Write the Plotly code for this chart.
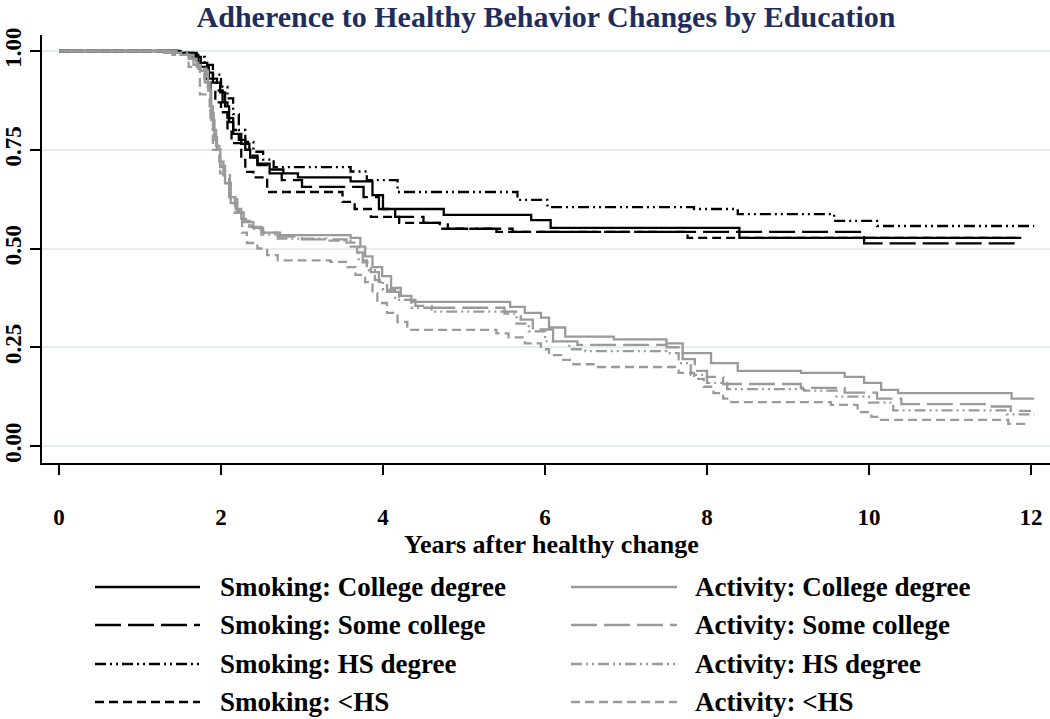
import plotly.graph_objects as go

# Kaplan-Meier style step curves (years, proportion still adhering)
smk_college_t = [0, 1.45, 1.62, 1.72, 1.83, 1.9, 1.99, 2.05, 2.1, 2.15, 2.22, 2.3, 2.36, 2.45, 2.6, 2.77, 2.95, 3.6, 3.87, 4.0, 4.75, 5.83, 6.07, 8.4, 11.88]
smk_college_s = [1.0, 0.995, 0.99, 0.97, 0.945, 0.92, 0.895, 0.86, 0.82, 0.79, 0.775, 0.75, 0.73, 0.715, 0.70, 0.69, 0.68, 0.67, 0.635, 0.60, 0.585, 0.572, 0.552, 0.527, 0.527]

smk_some_t = [0, 1.5, 1.65, 1.75, 1.85, 1.95, 2.02, 2.08, 2.15, 2.25, 2.35, 2.45, 2.6, 2.75, 3.0, 3.76, 3.95, 4.15, 4.5, 4.8, 5.6, 9.94, 11.85]
smk_some_s = [1.0, 0.995, 0.985, 0.96, 0.93, 0.90, 0.87, 0.83, 0.80, 0.765, 0.735, 0.711, 0.69, 0.673, 0.656, 0.63, 0.60, 0.58, 0.565, 0.55, 0.542, 0.513, 0.513]

smk_hs_t = [0, 1.5, 1.7, 1.8, 1.9, 2.0, 2.08, 2.15, 2.22, 2.3, 2.4, 2.52, 2.65, 3.6, 3.8, 4.18, 5.66, 6.03, 7.84, 8.38, 9.57, 10.1, 12.04]
smk_hs_s = [1.0, 0.995, 0.985, 0.965, 0.94, 0.91, 0.88, 0.84, 0.80, 0.77, 0.745, 0.725, 0.706, 0.695, 0.673, 0.643, 0.623, 0.605, 0.60, 0.587, 0.57, 0.557, 0.557]

smk_lths_t = [0, 1.4, 1.6, 1.7, 1.8, 1.87, 1.93, 2.0, 2.08, 2.13, 2.25, 2.3, 2.4, 2.57, 3.5, 3.65, 3.85, 4.2, 4.7, 5.4, 7.76, 11.85]
smk_lths_s = [1.0, 0.995, 0.985, 0.96, 0.93, 0.90, 0.87, 0.845, 0.80, 0.767, 0.724, 0.694, 0.68, 0.643, 0.618, 0.60, 0.58, 0.565, 0.55, 0.542, 0.527, 0.527]

act_college_t = [0, 1.3, 1.5, 1.66, 1.75, 1.84, 1.88, 1.92, 1.95, 1.99, 2.05, 2.12, 2.2, 2.28, 2.4, 2.52, 2.73, 3.6, 3.72, 3.78, 3.87, 3.99, 4.1, 4.22, 4.35, 5.57, 5.75, 5.95, 6.05, 6.25, 6.85, 7.5, 7.7, 8.05, 8.38, 9.16, 9.7, 9.94, 10.15, 10.36, 11.76, 12.04]
act_college_s = [1.0, 0.995, 0.99, 0.965, 0.95, 0.90, 0.825, 0.775, 0.75, 0.706, 0.666, 0.615, 0.59, 0.567, 0.552, 0.54, 0.534, 0.527, 0.505, 0.48, 0.453, 0.43, 0.40, 0.38, 0.365, 0.352, 0.337, 0.325, 0.30, 0.277, 0.27, 0.26, 0.235, 0.21, 0.19, 0.185, 0.175, 0.16, 0.142, 0.134, 0.12, 0.12]

act_some_t = [0, 1.4, 1.6, 1.7, 1.8, 1.86, 1.9, 1.94, 1.98, 2.03, 2.1, 2.18, 2.25, 2.35, 2.5, 2.7, 3.0, 3.55, 3.68, 3.75, 3.85, 3.95, 4.05, 4.2, 4.4, 4.6, 5.5, 5.7, 5.85, 6.1, 6.4, 7.5, 7.7, 7.85, 8.0, 8.2, 9.16, 9.7, 10.1, 10.4, 11.5, 11.75, 12.0]
act_some_s = [1.0, 0.995, 0.98, 0.96, 0.92, 0.86, 0.80, 0.76, 0.72, 0.68, 0.63, 0.60, 0.575, 0.555, 0.54, 0.53, 0.523, 0.515, 0.49, 0.465, 0.44, 0.415, 0.39, 0.37, 0.355, 0.35, 0.34, 0.32, 0.295, 0.265, 0.256, 0.25, 0.22, 0.19, 0.175, 0.157, 0.147, 0.135, 0.12, 0.106, 0.10, 0.089, 0.089]

act_hs_t = [0, 1.45, 1.62, 1.72, 1.82, 1.87, 1.91, 1.95, 1.99, 2.05, 2.12, 2.2, 2.28, 2.38, 2.5, 2.7, 3.3, 3.6, 3.7, 3.8, 3.9, 4.0, 4.15, 4.35, 4.6, 5.5, 5.65, 5.8, 6.0, 6.3, 6.5, 7.5, 7.65, 7.8, 8.0, 8.25, 9.2, 9.6, 10.0, 10.3, 11.7, 12.04]
act_hs_s = [1.0, 0.995, 0.98, 0.955, 0.91, 0.85, 0.79, 0.75, 0.71, 0.665, 0.625, 0.595, 0.57, 0.55, 0.535, 0.525, 0.52, 0.505, 0.47, 0.445, 0.42, 0.395, 0.37, 0.35, 0.34, 0.335, 0.31, 0.29, 0.265, 0.245, 0.24, 0.235, 0.21, 0.18, 0.16, 0.144, 0.14, 0.125, 0.11, 0.09, 0.08, 0.08]

act_lths_t = [0, 1.4, 1.6, 1.74, 1.87, 1.9, 1.99, 2.11, 2.17, 2.26, 2.32, 2.45, 2.57, 2.7, 3.35, 3.56, 3.66, 3.78, 3.87, 3.93, 4.05, 4.18, 4.3, 5.4, 5.55, 5.75, 5.95, 6.05, 6.2, 6.35, 6.6, 7.65, 7.84, 7.96, 8.08, 8.2, 8.3, 9.53, 9.86, 10.03, 10.15, 11.72, 11.97]
act_lths_s = [1.0, 0.99, 0.96, 0.89, 0.82, 0.75, 0.69, 0.63, 0.59, 0.54, 0.514, 0.50, 0.483, 0.47, 0.466, 0.453, 0.433, 0.415, 0.387, 0.362, 0.337, 0.314, 0.294, 0.285, 0.275, 0.26, 0.245, 0.23, 0.218, 0.207, 0.20, 0.185, 0.17, 0.15, 0.134, 0.12, 0.111, 0.104, 0.086, 0.074, 0.066, 0.056, 0.056]

labels = ["Smoking: College degree", "Smoking: Some college", "Smoking: HS degree", "Smoking: <HS",
          "Activity: College degree", "Activity: Some college", "Activity: HS degree", "Activity: <HS"]
x_ticks = [0, 2, 4, 6, 8, 10, 12]
y_ticks = [0, 0.25, 0.5, 0.75, 1.0]
y_tick_text = ["0.00", "0.25", "0.50", "0.75", "1.00"]

BLACK = "#000000"
GRAY = "#9a9a9a"
dashes = ["solid", "26px,7px", "11px,4px,2px,4px,2px,4px", "9px,5px"]

series = [
    (smk_college_t, smk_college_s), (smk_some_t, smk_some_s), (smk_hs_t, smk_hs_s), (smk_lths_t, smk_lths_s),
    (act_college_t, act_college_s), (act_some_t, act_some_s), (act_hs_t, act_hs_s), (act_lths_t, act_lths_s),
]

FONT = "Liberation Serif"
W, H = 1050, 719
L, R, T, B = 42, 0, 35, 256
PW, PH = W - L - R, H - T - B

fig = go.Figure()
for i, (t, s) in enumerate(series):
    color = BLACK if i < 4 else GRAY
    fig.add_trace(go.Scatter(
        x=t, y=s, mode="lines", name=labels[i],
        line=dict(color=color, width=2.3, dash=dashes[i % 4], shape="hv"),
        showlegend=False,
    ))

# hand-drawn legend, two columns of four rows
row_y = [587, 625, 664, 702]
for i, lab in enumerate(labels):
    col = i // 4
    row = i % 4
    x0, x1, xt = (95, 200, 218) if col == 0 else (571, 677, 693)
    yy = (H - B - row_y[row]) / PH
    fig.add_shape(type="line", xref="paper", yref="paper",
                  x0=(x0 - L) / PW, x1=(x1 - L) / PW, y0=yy, y1=yy,
                  line=dict(color=BLACK if col == 0 else GRAY, width=2.3, dash=dashes[row]))
    fig.add_annotation(xref="paper", yref="paper", x=(xt - L) / PW, y=yy,
                       text=lab, showarrow=False, xanchor="left", yanchor="middle",
                       font=dict(family=FONT, size=27, color="black", weight="bold"))

# x axis title placed directly under the tick labels
fig.add_annotation(xref="paper", yref="paper", x=(551 - L) / PW, y=(H - B - 544) / PH,
                   text="Years after healthy change", showarrow=False,
                   xanchor="center", yanchor="middle",
                   font=dict(family=FONT, size=26, color="black", weight="bold"))

fig.update_layout(
    width=W, height=H,
    margin=dict(l=L, r=R, t=T, b=B),
    paper_bgcolor="white", plot_bgcolor="white",
    title=dict(text="Adherence to Healthy Behavior Changes by Education",
               x=546 / W, xanchor="center", y=1 - 16 / H, yanchor="middle",
               font=dict(family=FONT, size=30, color="#1f2d5c", weight="bold")),
    xaxis=dict(range=[-0.21, 12.235], tickvals=x_ticks, showgrid=False, zeroline=False,
               showline=True, linecolor="black", linewidth=2,
               ticks="outside", ticklen=10, tickwidth=2, tickcolor="black",
               ticklabelstandoff=22,
               tickfont=dict(family=FONT, size=23, color="black", weight="bold")),
    yaxis=dict(range=[-0.043, 1.0405], tickvals=y_ticks, ticktext=y_tick_text, tickangle=-90,
               showgrid=True, gridcolor="#e4eeef", gridwidth=2, zeroline=False,
               showline=True, linecolor="black", linewidth=2,
               ticks="outside", ticklen=10, tickwidth=2, tickcolor="black",
               tickfont=dict(family=FONT, size=23, color="black", weight="bold")),
)

# the page body has a default 8px margin; drop it so the figure sits at the window corner
fig.write_html("out.html", config={"displayModeBar": False},
               post_script="document.body.style.margin='0';")
